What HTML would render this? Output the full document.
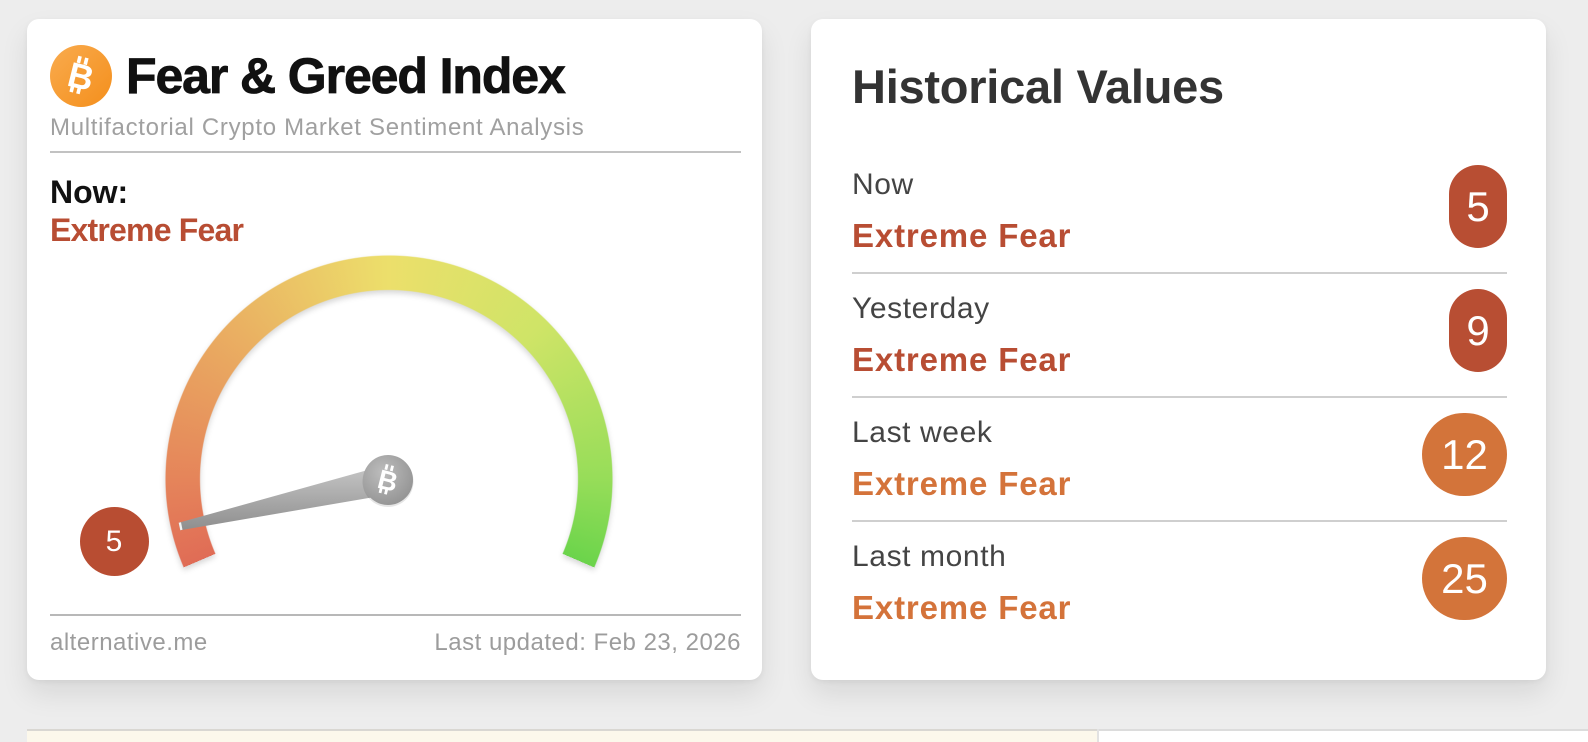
<!DOCTYPE html>
<html>
<head>
<meta charset="utf-8">
<style>
  html, body { margin:0; padding:0; }
  body { width:1588px; height:742px; background:#ededed; position:relative; overflow:hidden; font-family:"Liberation Sans", sans-serif; }
  .card { position:absolute; background:#fff; border-radius:12px; box-shadow:0 14px 28px rgba(0,0,0,0.09), 0 2px 6px rgba(0,0,0,0.05); }
  .t { position:absolute; white-space:nowrap; line-height:1; }
  .hr { position:absolute; height:2px; }
  .badge { position:absolute; color:#fff; font-size:42px; line-height:83px; height:83px; text-align:center; }
  .rust { color:#b84d33; }
  .orng { color:#d4733a; }
</style>
</head>
<body>

<!-- Left card -->
<div class="card" style="left:27px; top:19px; width:735px; height:661px;"></div>
<!-- Right card -->
<div class="card" style="left:811px; top:19px; width:735px; height:661px;"></div>

<!-- bottom strip -->
<div style="position:absolute; left:27px; top:729px; width:1070px; height:13px; background:#fcf8eb; border-top:2px solid #d9d7d2; box-sizing:border-box;"></div>
<div style="position:absolute; left:1097px; top:729px; width:2px; height:13px; background:#e2e2e2;"></div>
<div style="position:absolute; left:1099px; top:729px; width:489px; height:13px; background:#fff; border-top:2px solid #dcdcdc; box-sizing:border-box;"></div>

<!-- Left card text -->
<div class="t" style="left:126px; top:51px; font-size:50px; font-weight:bold; color:#111; letter-spacing:-1.1px; -webkit-text-stroke:0.8px #111;">Fear &amp; Greed Index</div>
<div class="t" style="left:50px; top:115.7px; font-size:24px; color:#a0a0a0; letter-spacing:0.7px;">Multifactorial Crypto Market Sentiment Analysis</div>
<div class="hr" style="left:50px; top:151px; width:691px; background:#c2c2c2;"></div>
<div class="t" style="left:50px; top:176px; font-size:32px; font-weight:bold; color:#111;">Now:</div>
<div class="t rust" style="left:50px; top:214px; font-size:32px; font-weight:bold; letter-spacing:-0.8px;">Extreme Fear</div>

<div class="hr" style="left:50px; top:614px; width:691px; background:#b8b8b8;"></div>
<div class="t" style="left:50px; top:630.7px; font-size:24px; color:#9c9c9c; letter-spacing:0.5px;">alternative.me</div>
<div class="t" style="right:847px; top:630.7px; font-size:24px; color:#9c9c9c; letter-spacing:0.5px;">Last updated: Feb 23, 2026</div>

<!-- Gauge ring -->
<div style="position:absolute; left:165px; top:255px; width:448px; height:448px; filter:drop-shadow(0 3px 3px rgba(0,0,0,0.16));">
  <div style="width:448px; height:448px;
    background:conic-gradient(from 246.7deg at 50% 50%, #e06c56 0deg, #e5845a 23deg, #eab062 68deg, #ecdf6b 113deg, #cfe467 158deg, #97dd59 203deg, #6bd44b 226.6deg, transparent 226.6deg);
    -webkit-mask:radial-gradient(circle 224px at 50% 50%, transparent 188.5px, #000 189.5px, #000 223px, transparent 224px);
    mask:radial-gradient(circle 224px at 50% 50%, transparent 188.5px, #000 189.5px, #000 223px, transparent 224px);"></div>
</div>

<!-- Left value badge -->
<div style="position:absolute; left:79.5px; top:506.5px; width:69px; height:69px; border-radius:50%; background:#b84d32; color:#fff; font-size:30px; line-height:69px; text-align:center;">5</div>

<!-- SVG: icons and needle -->
<svg style="position:absolute; left:0; top:0;" width="1588" height="742" viewBox="0 0 1588 742">
  <defs>
    <linearGradient id="btc" x1="0" y1="0" x2="1" y2="1">
      <stop offset="0" stop-color="#f9ab4e"/>
      <stop offset="1" stop-color="#f48f1c"/>
    </linearGradient>
    <linearGradient id="ndl" x1="0" y1="0" x2="0" y2="1">
      <stop offset="0" stop-color="#c2c2c2"/>
      <stop offset="1" stop-color="#8e8e8e"/>
    </linearGradient>
    <radialGradient id="piv" cx="0.4" cy="0.35" r="0.7">
      <stop offset="0" stop-color="#bdbdbd"/>
      <stop offset="1" stop-color="#939393"/>
    </radialGradient>
  </defs>

  <!-- top-left bitcoin icon -->
  <circle cx="81" cy="76" r="31" fill="url(#btc)"/>
  <g transform="translate(81,76) rotate(14)">
    <rect x="-7.5" y="-19" width="3.6" height="7" fill="#fff"/>
    <rect x="-0.5" y="-19" width="3.6" height="7" fill="#fff"/>
    <rect x="-7.5" y="11" width="3.6" height="7" fill="#fff"/>
    <rect x="-0.5" y="11" width="3.6" height="7" fill="#fff"/>
    <text x="0" y="12.5" text-anchor="middle" font-family="Liberation Sans, sans-serif" font-weight="bold" font-size="35" fill="#fff">B</text>
  </g>

  <!-- needle -->
  <polygon points="178.7,522.8 366,470.5 371.5,497.5 180.3,530.2" fill="url(#ndl)"/>
  <polygon points="178.7,522.8 180.3,530.2 182.5,529.8 181,522.2" fill="#f2f2f2"/>

  <!-- pivot -->
  <circle cx="388" cy="481.5" r="25.5" fill="#000" opacity="0.1"/>
  <circle cx="388" cy="480" r="25" fill="url(#piv)"/>
  <g transform="translate(388,480) rotate(14)">
    <rect x="-6" y="-15" width="2.8" height="5.5" fill="#fff"/>
    <rect x="-0.4" y="-15" width="2.8" height="5.5" fill="#fff"/>
    <rect x="-6" y="9" width="2.8" height="5.5" fill="#fff"/>
    <rect x="-0.4" y="9" width="2.8" height="5.5" fill="#fff"/>
    <text x="0" y="10" text-anchor="middle" font-family="Liberation Sans, sans-serif" font-weight="bold" font-size="27" fill="#fff">B</text>
  </g>
</svg>

<!-- Right card text -->
<div class="t" style="left:852px; top:63.2px; font-size:47px; font-weight:bold; color:#333; letter-spacing:-0.25px;">Historical Values</div>

<div class="t" style="left:852px; top:169.6px; font-size:30px; color:#444; letter-spacing:0.6px;">Now</div>
<div class="t rust" style="left:852px; top:219.1px; font-size:33px; font-weight:bold; letter-spacing:0.85px;">Extreme Fear</div>
<div class="badge" style="left:1449px; top:164.5px; width:58px; border-radius:29px; background:#b84e33;">5</div>
<div class="hr" style="left:852px; top:272px; width:655px; background:#cfcfcf;"></div>

<div class="t" style="left:852px; top:293.6px; font-size:30px; color:#444; letter-spacing:0.6px;">Yesterday</div>
<div class="t rust" style="left:852px; top:343.1px; font-size:33px; font-weight:bold; letter-spacing:0.85px;">Extreme Fear</div>
<div class="badge" style="left:1449px; top:288.5px; width:58px; border-radius:29px; background:#b84e33;">9</div>
<div class="hr" style="left:852px; top:396px; width:655px; background:#cfcfcf;"></div>

<div class="t" style="left:852px; top:417.6px; font-size:30px; color:#444; letter-spacing:0.6px;">Last week</div>
<div class="t orng" style="left:852px; top:467.1px; font-size:33px; font-weight:bold; letter-spacing:0.85px;">Extreme Fear</div>
<div class="badge" style="left:1422px; top:412.5px; width:85px; border-radius:42.5px; background:#d3743a;">12</div>
<div class="hr" style="left:852px; top:520px; width:655px; background:#cfcfcf;"></div>

<div class="t" style="left:852px; top:541.6px; font-size:30px; color:#444; letter-spacing:0.6px;">Last month</div>
<div class="t orng" style="left:852px; top:591.1px; font-size:33px; font-weight:bold; letter-spacing:0.85px;">Extreme Fear</div>
<div class="badge" style="left:1422px; top:536.5px; width:85px; border-radius:42.5px; background:#d3743a;">25</div>

</body>
</html>
